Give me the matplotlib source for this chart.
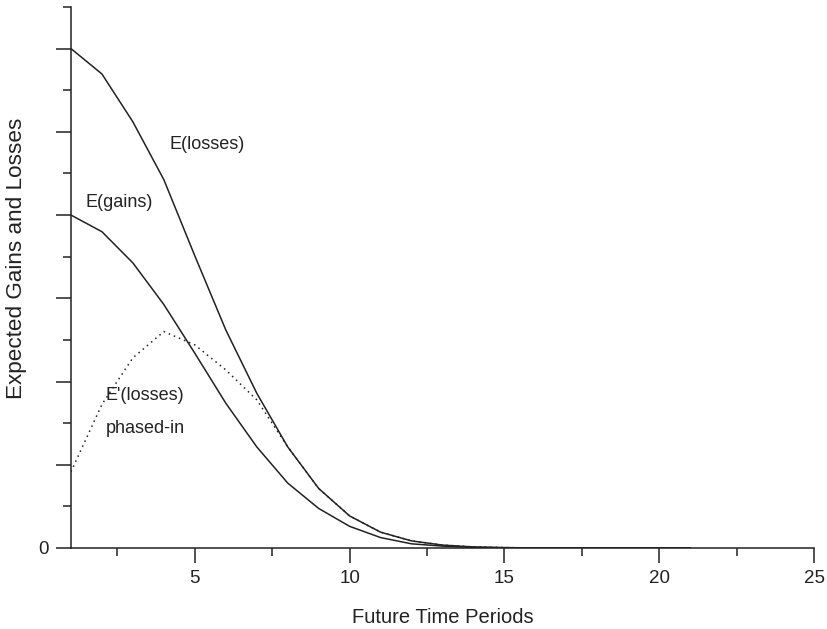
import numpy as np
import matplotlib
matplotlib.use("Agg")
import matplotlib.pyplot as plt
from matplotlib.ticker import MultipleLocator, NullFormatter, FuncFormatter, FixedLocator

plt.rcParams['font.family'] = ['Liberation Sans', 'DejaVu Sans']

# future time periods
periods = list(range(1, 22))

# expected losses / gains (tick units)
e_losses = [12.0, 11.39, 10.24, 8.85, 7.02, 5.24, 3.72, 2.43, 1.43, 0.77, 0.38,
            0.17, 0.07, 0.025, 0.01, 0.0, 0.0, 0.0, 0.0, 0.0, 0.0]
e_gains = [8.0, 7.6, 6.85, 5.85, 4.68, 3.48, 2.43, 1.56, 0.95, 0.52, 0.25,
           0.1, 0.045, 0.015, 0.005, 0.0, 0.0, 0.0, 0.0, 0.0, 0.0]
# phased-in losses (dotted)
e_phased = [1.83, 3.45, 4.57, 5.2, 4.88, 4.28, 3.56, 2.43, 1.43, 0.77, 0.38,
            0.17, 0.07, 0.025, 0.01, 0.0, 0.0, 0.0, 0.0, 0.0, 0.0]

line_col = '#222222'


def main():
    fig = plt.figure(figsize=(8.28, 6.29), dpi=100)
    ax = fig.add_axes([0.0857, 0.1288, 0.8975, 0.8601])

    ax.plot(periods, e_losses, color=line_col, lw=1.1)
    ax.plot(periods, e_gains, color=line_col, lw=1.1)
    ax.plot(periods, e_phased, color=line_col, lw=1.1, linestyle=(0, (1, 2.6)))

    ax.set_xlim(1, 25)
    ax.set_ylim(0, 13)

    # spines
    for s in ['top', 'right']:
        ax.spines[s].set_visible(False)
    for s in ['left', 'bottom']:
        ax.spines[s].set_color(line_col)
        ax.spines[s].set_linewidth(1.1)

    # ticks
    ax.xaxis.set_major_locator(FixedLocator([5, 10, 15, 20, 25]))
    ax.xaxis.set_minor_locator(FixedLocator([2.5, 7.5, 12.5, 17.5, 22.5]))
    ax.yaxis.set_major_locator(MultipleLocator(2))
    ax.yaxis.set_minor_locator(MultipleLocator(1))
    ax.yaxis.set_major_formatter(FuncFormatter(lambda v, p: '0' if abs(v) < 1e-9 else ''))
    ax.yaxis.set_minor_formatter(NullFormatter())
    ax.tick_params(which='major', length=11, width=1.1, color=line_col,
                   labelsize=13.5, labelcolor=line_col, pad=5)
    ax.tick_params(which='minor', length=6, width=1.1, color=line_col)

    ax.set_xlabel('Future Time Periods', fontsize=14.5, color=line_col, labelpad=15)
    ax.set_ylabel('Expected Gains and Losses', fontsize=16.2, color=line_col)
    ax.yaxis.set_label_coords(-0.059, 0.536)

    # curve labels
    txt = dict(fontsize=13, color=line_col, va='center', ha='left')
    ax.text(4.19, 9.7, 'E(losses)', **txt)
    ax.text(1.48, 8.3, 'E(gains)', **txt)
    ax.text(2.13, 3.67, "E'(losses)", **txt)
    ax.text(2.13, 2.87, 'phased-in', **txt)

    fig.savefig('out.png', dpi=100)


if __name__ == "__main__":
    main()
